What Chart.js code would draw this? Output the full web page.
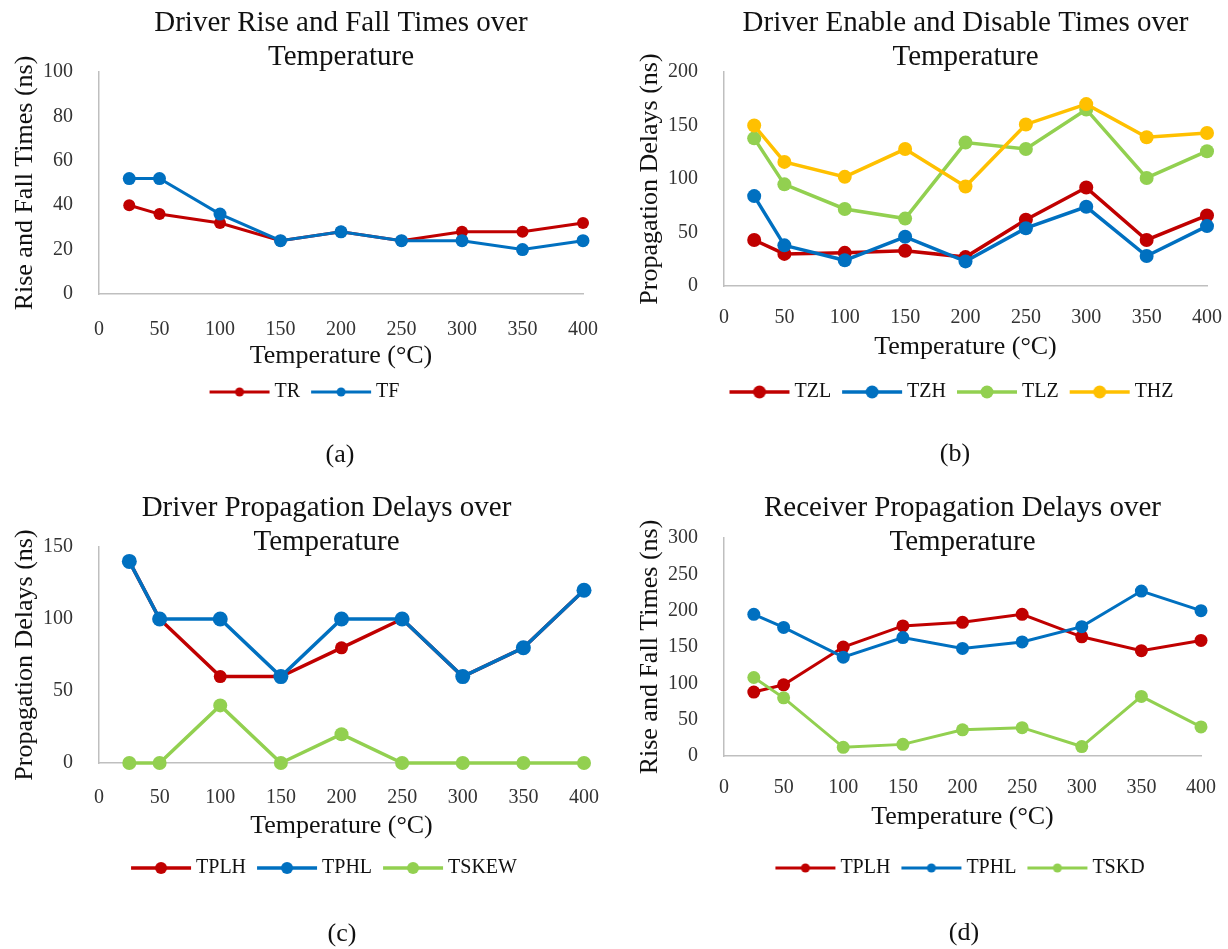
<!DOCTYPE html>
<html>
<head>
<meta charset="utf-8">
<script src="https://cdn.jsdelivr.net/npm/chart.js"></script>
<style>
  html, body { margin: 0; padding: 0; background: #fff; }
  #page { position: relative; width: 1228px; height: 949px; overflow: hidden; background: #fff; }
  #page canvas { position: absolute; }
  .caption {
    position: absolute;
    font-family: "Liberation Serif", "Times New Roman", serif;
    font-size: 26px;
    line-height: 30px;
    color: #111;
    transform: translateX(-50%);
  }
</style>
</head>
<body>
<div id="page">
  <canvas id="chart-a"></canvas>
  <canvas id="chart-b"></canvas>
  <canvas id="chart-c"></canvas>
  <canvas id="chart-d"></canvas>
  <div class="caption" style="left:340px;top:439px">(a)</div>
  <div class="caption" style="left:955px;top:438px">(b)</div>
  <div class="caption" style="left:342px;top:918px">(c)</div>
  <div class="caption" style="left:964px;top:917px">(d)</div>
</div>
<script>
// temperatures (°C) shared by all four panels
const temps = [25, 50, 100, 150, 200, 250, 300, 350, 400];

// (a) driver rise / fall times (ns)
const trTimes = [40, 36, 32, 24, 28, 24, 28, 28, 32];
const tfTimes = [52, 52, 36, 24, 28, 24, 24, 20, 24];

// (b) driver enable / disable times (ns)
const tzlTimes = [43, 30, 31, 33, 27, 62, 92, 43, 66];
const tzhTimes = [84, 38, 24, 46, 23, 54, 74, 28, 56];
const tlzTimes = [138, 95, 72, 63, 134, 128, 165, 101, 126];
const thzTimes = [150, 116, 102, 128, 93, 151, 170, 139, 143];

// (c) driver propagation delays (ns)
const drvTplh = [140, 100, 60, 60, 80, 100, 60, 80, 120];
const drvTphl = [140, 100, 100, 60, 100, 100, 60, 80, 120];
const drvTskew = [0, 0, 40, 0, 20, 0, 0, 0, 0];

// (d) receiver propagation delays (ns)
const rcvTplh = [88, 98, 150, 179, 184, 195, 164, 145, 159];
const rcvTphl = [195, 177, 136, 163, 148, 157, 178, 227, 200];
const rcvTskd = [108, 80, 12, 16, 36, 39, 13, 82, 40];

const RED = '#C00000';
const BLUE = '#0070C0';
const GREEN = '#92D050';
const GOLD = '#FFC000';
const SERIF = "'Liberation Serif', 'Times New Roman', serif";
const TEXT = '#111';

// line + dot sample, used as the legend point style
const legendSwatch = (color, radius, lineWidth) => {
  const c = document.createElement('canvas');
  c.width = 62;
  c.height = 18;
  const g = c.getContext('2d');
  g.strokeStyle = color;
  g.lineWidth = lineWidth;
  g.beginPath();
  g.moveTo(1, 9);
  g.lineTo(61, 9);
  g.stroke();
  g.fillStyle = color;
  g.beginPath();
  g.arc(31, 9, radius, 0, Math.PI * 2);
  g.fill();
  return c;
};

function buildChart(canvasId, p) {
  const canvas = document.getElementById(canvasId);
  canvas.width = p.box.w;
  canvas.height = p.box.h;
  canvas.style.left = p.box.x + 'px';
  canvas.style.top = p.box.y + 'px';

  const swatches = p.series.map(s => legendSwatch(s.color, p.legendDot, p.lineWidth));

  const datasets = p.series.map((s, i) => ({
    label: s.label,
    data: temps.map((t, k) => ({ x: t, y: s.values[k] })),
    borderColor: s.color,
    backgroundColor: s.color,
    pointBackgroundColor: s.color,
    pointBorderColor: s.color,
    pointBorderWidth: 0,
    pointRadius: s.radius,
    pointHoverRadius: s.radius,
    borderWidth: p.lineWidth,
    tension: 0,
    clip: false,
    order: -i, // later series drawn on top, like the original
  }));

  const scales = {
    x: {
      type: 'linear',
      min: 0,
      max: 400,
      afterFit: (scale) => { scale.height = p.xHeight; },
      grid: { display: false },
      border: { display: true, color: '#BFBFBF', width: 1.5 },
      ticks: {
        stepSize: 50,
        autoSkip: false,
        maxRotation: 0,
        padding: p.xTickPad,
        color: '#333',
        font: { family: SERIF, size: 20 },
      },
      title: {
        display: true,
        text: 'Temperature (°C)',
        color: TEXT,
        font: { family: SERIF, size: 26 },
        padding: { top: 0, bottom: p.xTitlePad },
      },
    },
    y: {
      min: 0,
      max: p.yMax,
      afterFit: (scale) => { scale.width = p.yWidth; },
      grid: { display: false },
      border: { display: true, color: '#BFBFBF', width: 1.5 },
      ticks: {
        stepSize: p.yStep,
        padding: p.yTickPad,
        color: '#333',
        font: { family: SERIF, size: 20 },
      },
      title: {
        display: true,
        text: p.yTitle,
        color: TEXT,
        font: { family: SERIF, size: 26 },
        padding: { top: p.yTitlePad, bottom: 0 },
      },
    },
  };

  // empty right-hand gap so the legend / title sit where the original has them
  if (p.rightGap) {
    scales.yGap = {
      position: 'right',
      min: 0,
      max: 1,
      afterFit: (scale) => { scale.width = p.rightGap; },
      grid: { display: false },
      border: { display: false },
      ticks: { display: false },
    };
  }

  return new Chart(canvas, {
    type: 'line',
    data: { datasets },
    options: {
      responsive: false,
      animation: false,
      devicePixelRatio: 1,
      events: [],
      layout: { padding: { left: p.padL, right: p.padR, top: 0, bottom: p.padB } },
      plugins: {
        tooltip: { enabled: false },
        title: {
          display: true,
          text: p.title,
          color: TEXT,
          fullSize: p.titleFull,
          font: { family: SERIF, size: 29, weight: 'normal', lineHeight: p.titleLH },
          padding: { top: p.titlePadTop, bottom: p.titlePadBottom },
        },
        legend: {
          display: true,
          position: 'bottom',
          fullSize: p.legendFull,
          labels: {
            usePointStyle: true,
            pointStyleWidth: 50,
            padding: 16,
            color: TEXT,
            font: { family: SERIF, size: 20 },
            generateLabels: (chart) => chart.data.datasets.map((ds, i) => ({
              text: ds.label,
              pointStyle: swatches[i],
              fillStyle: ds.borderColor,
              strokeStyle: ds.borderColor,
              lineWidth: 0,
              hidden: false,
              fontColor: TEXT,
              datasetIndex: i,
            })),
          },
        },
      },
      scales,
    },
  });
}

buildChart('chart-a', {
  box: { x: 0, y: 0, w: 614, h: 474 },
  padL: 30, padR: 30, padB: 62,
  yWidth: 69, yTitlePad: -20.6, yTickPad: 18,
  xHeight: 72, xTickPad: 16, xTitlePad: -5.6,
  title: ['Driver Rise and Fall Times over', 'Temperature'],
  titleFull: false, titleLH: 1.1724, titlePadTop: 6, titlePadBottom: -2,
  legendFull: true,
  yTitle: 'Rise and Fall Times (ns)', yMax: 100, yStep: 20,
  lineWidth: 3, legendDot: 4.5,
  series: [
    { label: 'TR', values: trTimes, color: RED, radius: 6 },
    { label: 'TF', values: tfTimes, color: BLUE, radius: 6.5 },
  ],
});

buildChart('chart-b', {
  box: { x: 614, y: 0, w: 650, h: 474 },
  padL: 50, padR: 20, padB: 62, rightGap: 37,
  yWidth: 60, yTitlePad: -29.6, yTickPad: 18,
  xHeight: 80, xTickPad: 12, xTitlePad: 3.4,
  title: ['Driver Enable and Disable Times over', 'Temperature'],
  titleFull: false, titleLH: 1.1724, titlePadTop: 6, titlePadBottom: -2,
  legendFull: true,
  yTitle: 'Propagation Delays (ns)', yMax: 200, yStep: 50,
  lineWidth: 3.5, legendDot: 6.5,
  series: [
    { label: 'TZL', values: tzlTimes, color: RED, radius: 7 },
    { label: 'TZH', values: tzhTimes, color: BLUE, radius: 7 },
    { label: 'TLZ', values: tlzTimes, color: GREEN, radius: 7 },
    { label: 'THZ', values: thzTimes, color: GOLD, radius: 7 },
  ],
});

buildChart('chart-c', {
  box: { x: 0, y: 474, w: 640, h: 475 },
  padL: 40, padR: 27, padB: 61, rightGap: 29,
  yWidth: 59, yTitlePad: -30.6, yTickPad: 18,
  xHeight: 79, xTickPad: 15, xTitlePad: 0.4,
  title: ['Driver Propagation Delays over', 'Temperature'],
  titleFull: true, titleLH: 1.2, titlePadTop: 16.6, titlePadBottom: -13.2,
  legendFull: true,
  yTitle: 'Propagation Delays (ns)', yMax: 150, yStep: 50,
  lineWidth: 3.5, legendDot: 6,
  series: [
    { label: 'TPLH', values: drvTplh, color: RED, radius: 6.5 },
    { label: 'TPHL', values: drvTphl, color: BLUE, radius: 7.5 },
    { label: 'TSKEW', values: drvTskew, color: GREEN, radius: 7 },
  ],
});

buildChart('chart-d', {
  box: { x: 614, y: 474, w: 614, h: 475 },
  padL: 0, padR: 20, padB: 61,
  yWidth: 110, yTitlePad: 20.4, yTickPad: 18,
  xHeight: 86, xTickPad: 12, xTitlePad: 9.4,
  title: ['Receiver Propagation Delays over', 'Temperature'],
  titleFull: false, titleLH: 1.2, titlePadTop: 16.6, titlePadBottom: -22.2,
  legendFull: false,
  yTitle: 'Rise and Fall Times (ns)', yMax: 300, yStep: 50,
  lineWidth: 3, legendDot: 4.5,
  series: [
    { label: 'TPLH', values: rcvTplh, color: RED, radius: 6.5 },
    { label: 'TPHL', values: rcvTphl, color: BLUE, radius: 6.5 },
    { label: 'TSKD', values: rcvTskd, color: GREEN, radius: 6.5 },
  ],
});
</script>
</body>
</html>
